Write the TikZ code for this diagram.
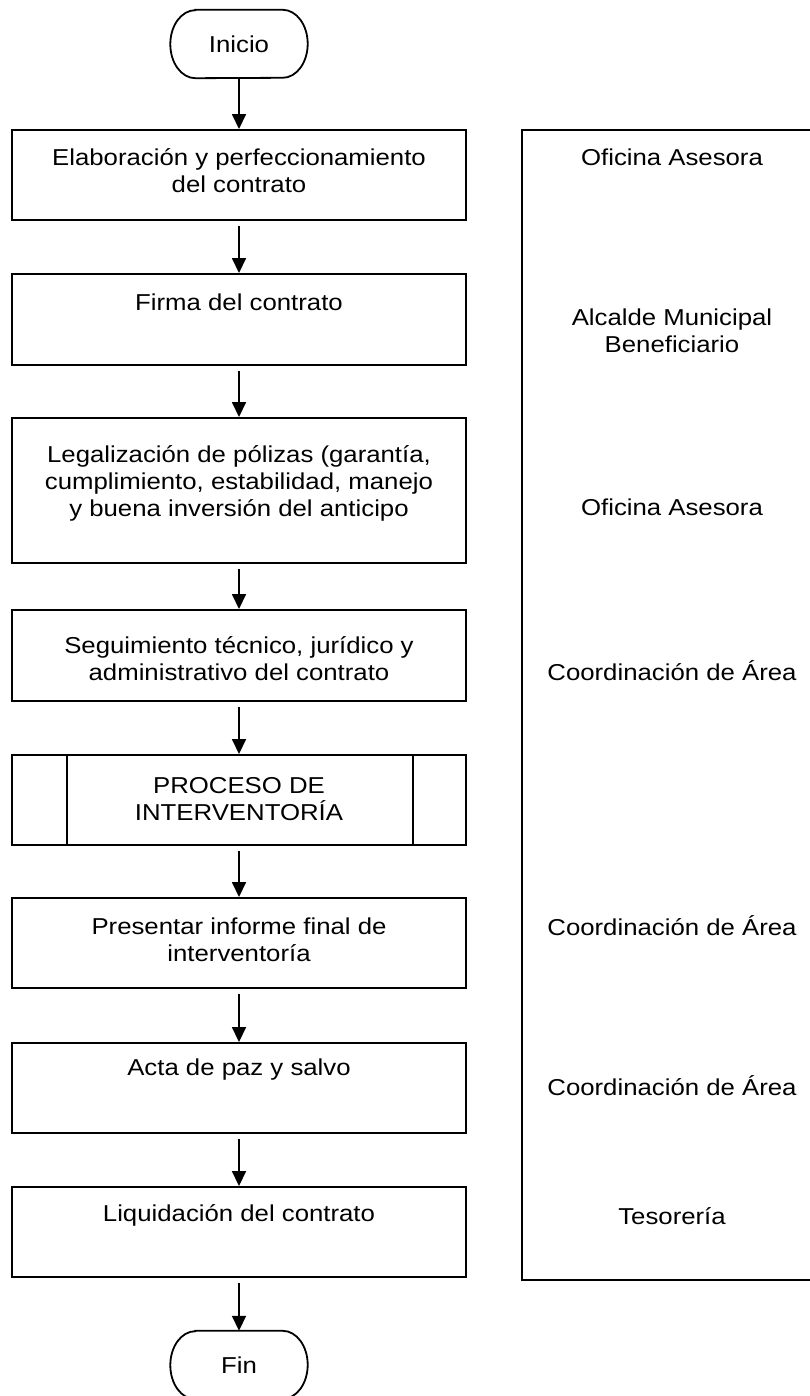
\documentclass[tikz,border=0pt]{standalone}
\usepackage{fontspec}
\setmainfont{Liberation Sans}[FakeStretch=1.12]
\usetikzlibrary{arrows.meta}
\newcommand\termshape[1]{\draw[line width=1.8pt] ([xshift=25pt]#1.north west) -- ([xshift=-25pt]#1.north east) arc[start angle=90,end angle=-90,x radius=25pt,y radius=34pt] -- ([xshift=25pt]#1.south west) arc[start angle=270,end angle=90,x radius=25pt,y radius=34pt] -- cycle;}
\begin{document}
\begin{tikzpicture}[x=1pt,y=-1pt,
  box/.style={draw, line width=1.9pt, minimum width=454pt, inner sep=0pt},
  term/.style={inner sep=0pt, minimum width=137pt, minimum height=68pt, font=\fontsize{23}{27}\selectfont},
  txt/.style={inner sep=0pt, align=center, font=\fontsize{23}{27}\selectfont},
  flow/.style={line width=1.6pt, -{Triangle[length=15pt,width=14pt]}},
]
\useasboundingbox (0,0) rectangle (809,1396);

% responsible column
\node[draw, line width=1.9pt, minimum width=300pt, minimum height=1150pt, inner sep=0pt] (resp) at (672,705) {};

% terminators
\node[term] (ini) at (239,44) {Inicio};
\termshape{ini}
\node[term] (fin) at (239,1365) {Fin};
\termshape{fin}

% process boxes
\node[box, minimum height=90pt]  (b1) at (239,175) {};
\node[box, minimum height=91pt]  (b2) at (239,319.5) {};
\node[box, minimum height=145pt] (b3) at (239,490.5) {};
\node[box, minimum height=91pt]  (b4) at (239,655.5) {};
\node[box, minimum height=90pt]  (b5) at (239,800) {};
\draw[line width=1.9pt] ([xshift=56pt]b5.north west) -- ([xshift=56pt]b5.south west);
\draw[line width=1.9pt] ([xshift=-54pt]b5.north east) -- ([xshift=-54pt]b5.south east);
\node[box, minimum height=90pt]  (b6) at (239,943) {};
\node[box, minimum height=90pt]  (b7) at (239,1088) {};
\node[box, minimum height=90pt]  (b8) at (239,1232) {};

% box texts
\node[txt] (t1) at (239,171) {Elaboración y perfeccionamiento\\del contrato};
\node[txt] (t2) at (239,302) {Firma del contrato};
\node[txt] (t3) at (239,483) {Legalización de pólizas (garantía,\\cumplimiento, estabilidad, manejo\\y buena inversión del anticipo};
\node[txt] (t4) at (239,659) {Seguimiento técnico, jurídico y\\administrativo del contrato};
\node[txt] (t5) at (239,799) {PROCESO DE\\INTERVENTORÍA};
\node[txt] (t6) at (239,940) {Presentar informe final de\\interventoría};
\node[txt] (t7) at (239,1070) {Acta de paz y salvo};
\node[txt] (t8) at (239,1215) {Liquidación del contrato};

% responsible texts
\node[txt] (r1) at (672,157) {Oficina Asesora};
\node[txt] (r2) at (672,331) {Alcalde Municipal\\Beneficiario};
\node[txt] (r3) at (672,507) {Oficina Asesora};
\node[txt] (r4) at (672,671) {Coordinación de Área};
\node[txt] (r5) at (672,926) {Coordinación de Área};
\node[txt] (r6) at (672,1086) {Coordinación de Área};
\node[txt] (r7) at (672,1216) {Tesorería};

% connectors
\draw[flow] (ini.south) -- (b1.north);
\draw[flow, shorten <=5pt] (b1.south) -- (b2.north);
\draw[flow, shorten <=5pt] (b2.south) -- (b3.north);
\draw[flow, shorten <=5pt] (b3.south) -- (b4.north);
\draw[flow, shorten <=5pt] (b4.south) -- (b5.north);
\draw[flow, shorten <=5pt] (b5.south) -- (b6.north);
\draw[flow, shorten <=5pt] (b6.south) -- (b7.north);
\draw[flow, shorten <=5pt] (b7.south) -- (b8.north);
\draw[flow, shorten <=5pt] (b8.south) -- (fin.north);
\end{tikzpicture}
\end{document}
